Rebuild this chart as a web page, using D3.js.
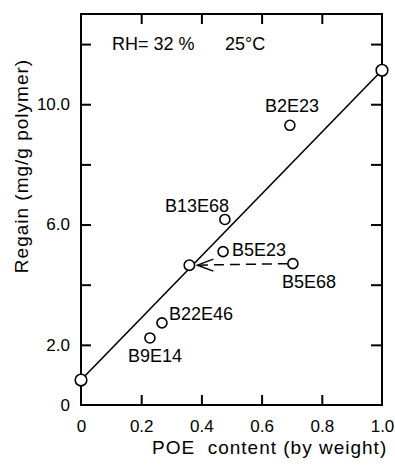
<!DOCTYPE html>
<html>
<head>
<meta charset="utf-8">
<script src="https://cdn.jsdelivr.net/npm/d3@7"></script>
<style>
  body { margin: 0; background: #fff; }
  text { font-family: "Liberation Sans", Arial, sans-serif; fill: #000; }
</style>
</head>
<body>
<div id="chart"></div>
<script>
// fitted line end points
const lineX = [0, 1.0];
const lineY = [0.83, 11.13];

// samples with labels
const sampleNames = ["B2E23", "B13E68", "B5E23", "B5E68", "B22E46", "B9E14"];
const sampleX = [0.694, 0.478, 0.472, 0.704, 0.269, 0.229];
const sampleY = [9.3, 6.17, 5.1, 4.7, 2.73, 2.23];

// point the B5E68 arrow goes to (on the line)
const arrowTo = [0.36, 4.65];

const xTicks = [0, 0.2, 0.4, 0.6, 0.8, 1.0];
const xTickLabels = ["0", "0.2", "0.4", "0.6", "0.8", "1.0"];
const yMinor = [2, 4, 6, 8, 10, 12];
const yTicks = [0, 2, 6, 10];
const yTickLabels = ["0", "2.0", "6.0", "10.0"];

const width = 395, height = 465;
const margin = { top: 14, right: 13, bottom: 60, left: 81 };

const svg = d3.select("#chart")
  .append("svg")
  .attr("width", width)
  .attr("height", height);

const x = d3.scaleLinear().domain([0, 1]).range([margin.left, width - margin.right]);
const y = d3.scaleLinear().domain([0, 13]).range([height - margin.bottom, margin.top]);

// frame
svg.append("rect")
  .attr("x", x(0)).attr("y", y(13))
  .attr("width", x(1) - x(0)).attr("height", y(0) - y(13))
  .attr("fill", "none").attr("stroke", "#000").attr("stroke-width", 2);

// inward ticks on all four sides
const tickStyle = g => {
  g.select(".domain").remove();
  g.selectAll("line").attr("stroke", "#000").attr("stroke-width", 2);
};
svg.append("g").attr("transform", `translate(${x(0)},0)`)
  .call(d3.axisLeft(y).tickValues(yMinor).tickSize(-10).tickFormat("")).call(tickStyle);
svg.append("g").attr("transform", `translate(${x(1)},0)`)
  .call(d3.axisRight(y).tickValues(yMinor).tickSize(-11).tickFormat("")).call(tickStyle);
svg.append("g").attr("transform", `translate(0,${y(0)})`)
  .call(d3.axisBottom(x).tickValues(xTicks.slice(1, -1)).tickSize(-10).tickFormat("")).call(tickStyle);
svg.append("g").attr("transform", `translate(0,${y(13)})`)
  .call(d3.axisTop(x).tickValues(xTicks.slice(1, -1)).tickSize(-10).tickFormat("")).call(tickStyle);

// tick labels
const labelStyle = g => {
  g.select(".domain").remove();
  g.selectAll("line").remove();
  g.selectAll("text").attr("font-size", 17).attr("font-family", null);
};
svg.append("g").attr("transform", `translate(${x(0)},0)`)
  .call(d3.axisLeft(y).tickValues(yTicks).tickSize(0).tickPadding(11)
    .tickFormat((d, i) => yTickLabels[i]))
  .call(labelStyle);
svg.append("g").attr("transform", `translate(0,${y(0)})`)
  .call(d3.axisBottom(x).tickValues(xTicks).tickSize(0).tickPadding(15)
    .tickFormat((d, i) => xTickLabels[i]))
  .call(labelStyle);

// axis titles
svg.append("text")
  .attr("x", 152).attr("y", 454)
  .attr("font-size", 19).attr("letter-spacing", 1)
  .text("POE\u00a0\u00a0content (by weight)");
svg.append("text")
  .attr("transform", "translate(28,166) rotate(-90)")
  .attr("text-anchor", "middle")
  .attr("font-size", 19).attr("letter-spacing", 1)
  .text("Regain (mg/g polymer)");

// conditions
svg.append("text").attr("x", 112).attr("y", 50).attr("font-size", 18)
  .text("RH= 32 %");
svg.append("text").attr("x", 225).attr("y", 50).attr("font-size", 18)
  .text("25°C");

// fitted line
svg.append("line")
  .attr("x1", x(lineX[0])).attr("y1", y(lineY[0]))
  .attr("x2", x(lineX[1])).attr("y2", y(lineY[1]))
  .attr("stroke", "#000").attr("stroke-width", 1.6);

// dashed arrow B5E68 -> line
const r = 5;
const from = [x(sampleX[3]) - r, y(sampleY[3])];
const tip = [x(arrowTo[0]) + r + 3, y(arrowTo[1])];
svg.append("line")
  .attr("x1", from[0]).attr("y1", from[1])
  .attr("x2", tip[0]).attr("y2", tip[1])
  .attr("stroke", "#000").attr("stroke-width", 1.5)
  .attr("stroke-dasharray", "10,6");
svg.append("path")
  .attr("d", d3.line()([[tip[0] + 16, tip[1] - 6], tip, [tip[0] + 16, tip[1] + 6]]))
  .attr("fill", "none").attr("stroke", "#000").attr("stroke-width", 1.5);

// circles
const ends = lineX.map((d, i) => [d, lineY[i]]);
svg.selectAll("circle.end")
  .data(ends.concat([arrowTo]))
  .enter().append("circle")
  .attr("class", "end")
  .attr("cx", d => x(d[0])).attr("cy", d => y(d[1]))
  .attr("r", (d, i) => i < 2 ? 5.8 : 5.2)
  .attr("fill", "#fff").attr("stroke", "#000").attr("stroke-width", 1.6);

svg.selectAll("circle.sample")
  .data(sampleNames)
  .enter().append("circle")
  .attr("class", "sample")
  .attr("cx", (d, i) => x(sampleX[i])).attr("cy", (d, i) => y(sampleY[i]))
  .attr("r", r)
  .attr("fill", "#fff").attr("stroke", "#000").attr("stroke-width", 1.6);

// sample labels, offset from their points
const labelDx = [-25, -60, 9, -11, 7, -22];
const labelDy = [-13, -7, 4, 24, -3, 24];
svg.selectAll("text.sample")
  .data(sampleNames)
  .enter().append("text")
  .attr("class", "sample")
  .attr("x", (d, i) => x(sampleX[i]) + labelDx[i])
  .attr("y", (d, i) => y(sampleY[i]) + labelDy[i])
  .attr("font-size", 18)
  .text(d => d);
</script>
</body>
</html>
